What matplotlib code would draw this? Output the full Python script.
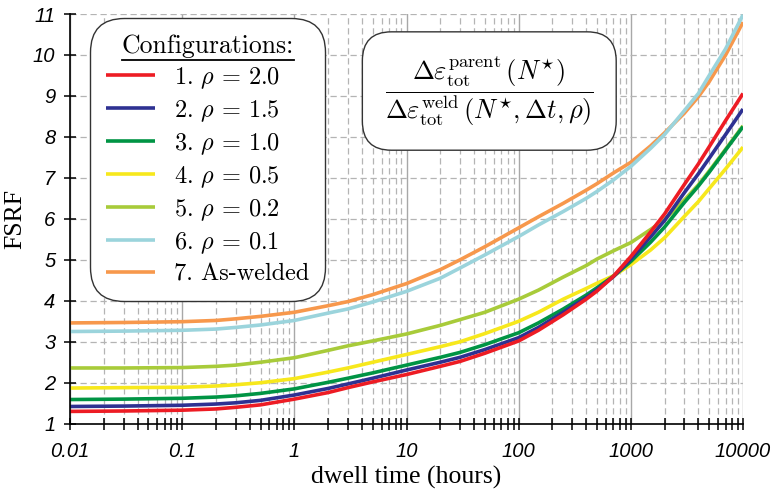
import numpy as np
import matplotlib.pyplot as plt
from matplotlib.lines import Line2D
from matplotlib.ticker import FixedLocator, FixedFormatter, LogLocator, NullFormatter

plt.rcParams['mathtext.fontset'] = 'cm'

t = [0.01, 0.03, 0.1, 0.2, 0.3, 0.5, 1, 2, 3, 5, 10, 20, 30, 50, 100, 150, 250, 400,
     500, 700, 1000, 1500, 2000, 3000, 4000, 5000, 7000, 10000]

rho_20 = [1.30, 1.31, 1.33, 1.36, 1.40, 1.46, 1.60, 1.76, 1.88, 2.02, 2.20, 2.40, 2.52, 2.72,
          3.02, 3.28, 3.66, 4.04, 4.24, 4.60, 5.08, 5.68, 6.12, 6.84, 7.34, 7.76, 8.40, 9.06]
rho_15 = [1.42, 1.43, 1.45, 1.48, 1.51, 1.57, 1.70, 1.86, 1.97, 2.11, 2.31, 2.50, 2.62, 2.81,
          3.10, 3.35, 3.72, 4.08, 4.27, 4.59, 5.02, 5.56, 5.96, 6.64, 7.10, 7.48, 8.06, 8.68]
rho_10 = [1.59, 1.60, 1.62, 1.65, 1.68, 1.74, 1.85, 2.01, 2.11, 2.24, 2.43, 2.62, 2.74, 2.93,
          3.22, 3.46, 3.80, 4.14, 4.32, 4.60, 4.96, 5.43, 5.80, 6.40, 6.80, 7.14, 7.68, 8.25]
rho_05 = [1.87, 1.88, 1.89, 1.92, 1.95, 2.00, 2.10, 2.26, 2.36, 2.50, 2.69, 2.88, 3.00, 3.20,
          3.50, 3.72, 4.04, 4.30, 4.43, 4.61, 4.88, 5.24, 5.54, 6.06, 6.42, 6.74, 7.22, 7.75]
rho_02 = [2.36, 2.36, 2.37, 2.40, 2.43, 2.50, 2.61, 2.79, 2.90, 3.02, 3.19, 3.40, 3.54, 3.72,
          4.04, 4.26, 4.58, 4.86, 5.02, 5.22, 5.42, 5.74, 5.98, 6.46, 6.83, 7.17, 7.70, 8.27]
rho_01 = [3.25, 3.26, 3.28, 3.31, 3.35, 3.41, 3.52, 3.70, 3.80, 3.97, 4.23, 4.55, 4.80, 5.12,
          5.57, 5.85, 6.18, 6.50, 6.67, 6.95, 7.28, 7.72, 8.06, 8.64, 9.06, 9.50, 10.15, 10.98]
welded = [3.46, 3.47, 3.49, 3.52, 3.56, 3.62, 3.72, 3.88, 3.98, 4.15, 4.42, 4.76, 5.00, 5.32,
          5.78, 6.05, 6.38, 6.70, 6.86, 7.12, 7.38, 7.78, 8.10, 8.58, 8.98, 9.35, 10.00, 10.80]

series = [rho_20, rho_15, rho_10, rho_05, rho_02, rho_01, welded]
labels = [r'1. $\rho\,=\,2.0$', r'2. $\rho\,=\,1.5$', r'3. $\rho\,=\,1.0$', r'4. $\rho\,=\,0.5$',
          r'5. $\rho\,=\,0.2$', r'6. $\rho\,=\,0.1$', '7. As-welded']
colors = ['#ed1c24', '#2e3192', '#009444', '#f7e81c', '#a8cb3a', '#9bd4dc', '#f7984c']

xticks = [0.01, 0.1, 1, 10, 100, 1000, 10000]
xlabels = ['0.01', '0.1', '1', '10', '100', '1000', '10000']
yticks = list(range(1, 12))

fig = plt.figure(figsize=(7.82, 4.96), dpi=100)
ax = fig.add_axes([70/782, 1-423.7/496, 673/782, 409.7/496])

# plotted back to front so that curve 1 ends up on top
handles = [None]*7
for i in reversed(range(7)):
    handles[i], = ax.plot(t, series[i], color=colors[i], lw=2.6, label=labels[i],
                          solid_capstyle='butt', solid_joinstyle='round')

ax.set_xscale('log')
ax.set_xlim(0.01, 10000)
ax.set_ylim(1, 11)
ax.xaxis.set_major_locator(FixedLocator(xticks))
ax.xaxis.set_major_formatter(FixedFormatter(xlabels))
ax.xaxis.set_minor_locator(LogLocator(base=10, subs=np.arange(2, 10), numticks=20))
ax.xaxis.set_minor_formatter(NullFormatter())
ax.set_yticks(yticks)

ax.xaxis.grid(True, which='major', ls='-', color='#a8a8a8', lw=1.0)
ax.xaxis.grid(True, which='minor', ls=(0, (5, 3)), color='#b4b4b4', lw=0.9)
ax.yaxis.grid(True, which='major', ls=(0, (5, 3)), color='#b4b4b4', lw=0.9)
ax.set_axisbelow(True)

for s in ['top', 'right']:
    ax.spines[s].set_visible(False)
for s in ['left', 'bottom']:
    ax.spines[s].set_linewidth(1.2)

ax.tick_params(which='both', direction='inout', length=9, width=1.1, color='black')
ax.tick_params(axis='x', pad=9)
ax.tick_params(axis='y', pad=6)
for lab in ax.get_xticklabels() + ax.get_yticklabels():
    lab.set_fontfamily('Liberation Sans')
    lab.set_fontstyle('italic')
    lab.set_fontsize(14.5)

ax.set_xlabel('dwell time (hours)', fontfamily='Liberation Serif', fontsize=18.5, labelpad=3)
ax.set_ylabel('FSRF', fontfamily='Liberation Serif', fontsize=18.5, labelpad=5)

leg = ax.legend(handles=handles, loc='upper left', bbox_to_anchor=(0.03, 0.99),
                borderaxespad=0, title='Configurations:', fancybox=True,
                prop={'family': 'cmr10', 'size': 17.5}, handlelength=2.0,
                handletextpad=0.8, labelspacing=0.3, borderpad=0.65,
                framealpha=1, edgecolor='#333333')
leg.get_title().set_fontfamily('cmr10')
leg.get_title().set_fontsize(18.5)
leg.get_frame().set_boxstyle('round', pad=0.0, rounding_size=1.4)
leg.get_frame().set_linewidth(1.0)
for h in leg.legend_handles:
    h.set_linewidth(2.6)

frac = (r'$\dfrac{\Delta\varepsilon_{\mathrm{tot}}^{\mathrm{parent}}\,(N^{\star})}'
        r'{\Delta\varepsilon_{\mathrm{tot}}^{\mathrm{weld}}\,(N^{\star},\Delta t,\rho)}$')
ax.text(0.623, 0.812, frac, transform=ax.transAxes, ha='center', va='center', fontsize=19,
        bbox=dict(boxstyle='round,pad=0.85,rounding_size=1.1', fc='white', ec='#333333', lw=1.0))

# underline the legend title
fig.canvas.draw()
bb = leg.get_title().get_window_extent()
W, H = fig.bbox.width, fig.bbox.height
fig.add_artist(Line2D([bb.x0/W, bb.x1/W], [(bb.y0-2)/H, (bb.y0-2)/H],
                      transform=fig.transFigure, color='black', lw=1.3))

fig.savefig('out.png', dpi=100)
